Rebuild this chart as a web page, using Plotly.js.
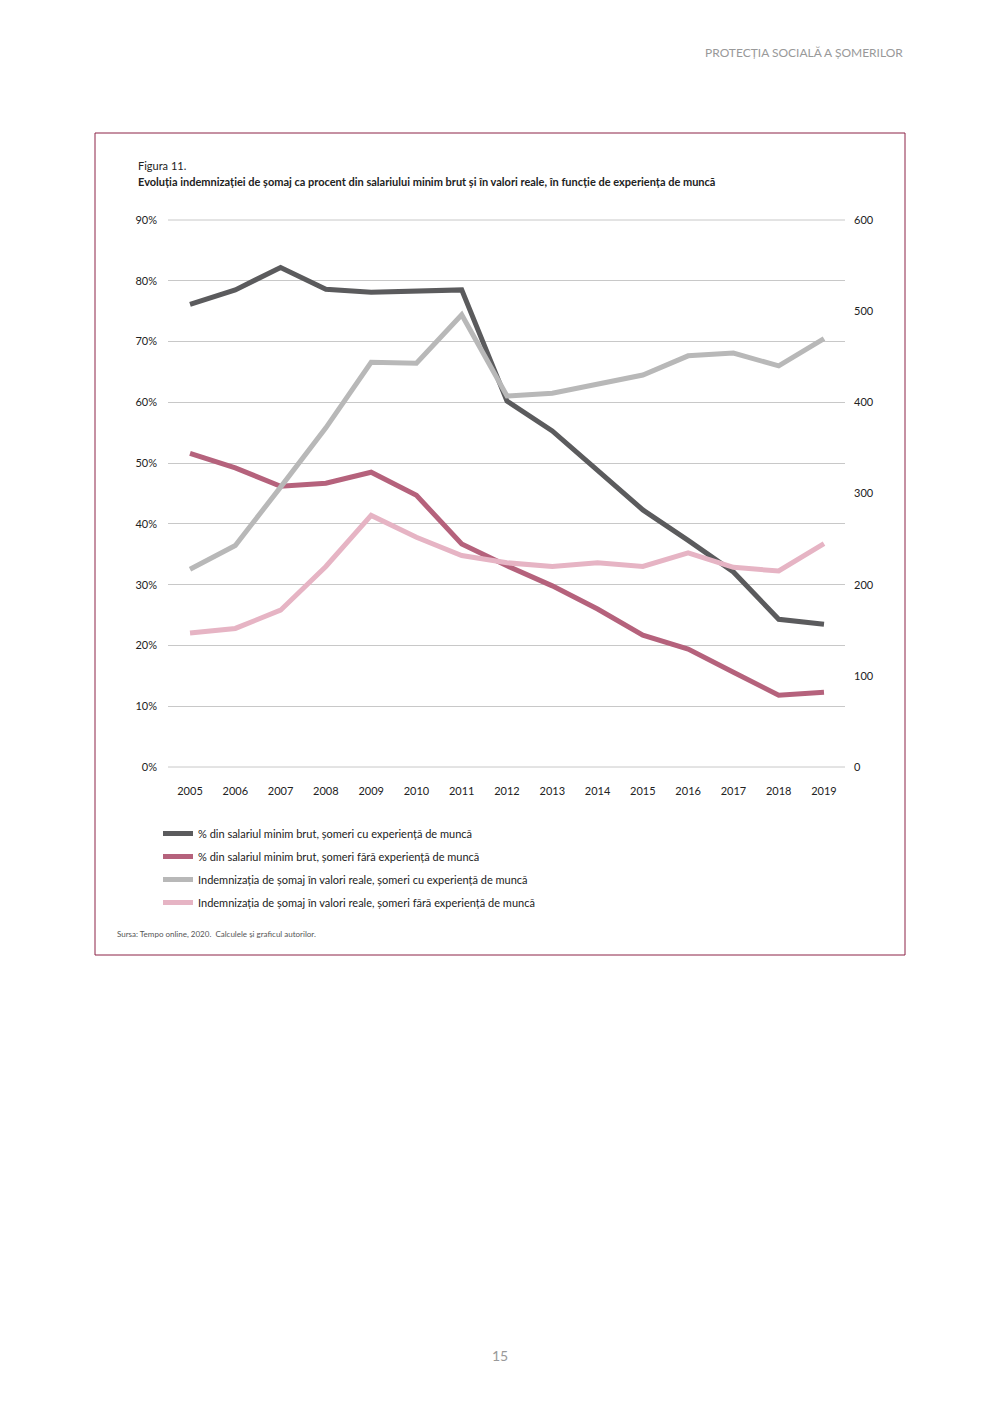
<!DOCTYPE html>
<html><head><meta charset="utf-8">
<script src="https://cdn.plot.ly/plotly-3.0.1.min.js"></script>
<style>body{margin:0;background:#fff}#c{width:1000px;height:1414px}</style>
</head><body><div id="c"></div>
<script>
const years=[2005,2006,2007,2008,2009,2010,2011,2012,2013,2014,2015,2016,2017,2018,2019];
const pctCuExp=[76.1,78.5,82.2,78.6,78.1,78.3,78.5,60.2,55.3,48.8,42.3,37.3,32.1,24.3,23.5];
const pctFaraExp=[51.6,49.2,46.2,46.7,48.5,44.7,36.7,33.1,29.8,26.0,21.7,19.4,15.6,11.8,12.3];
const realCuExp=[217,243,307,372,444,443,496,407,410,420,430,451,454,440,470];
const realFaraExp=[147,152,172,220,276,252,232,224,220,224,220,235,219,215,245];
const names=["% din salariul minim brut, șomeri cu experiență de muncă","% din salariul minim brut, șomeri fără experiență de muncă","Indemnizația de șomaj în valori reale, șomeri cu experiență de muncă","Indemnizația de șomaj în valori reale, șomeri fără experiență de muncă"];
const cols=["#5b5b5d","#b5627c","#b8b8b8","#e6b4c4"];
const L=168,R=845,T=220,B=767;
const px=x=>(x-L)/(R-L), py=y=>(B-y)/(B-T);
const traces=[
 {x:years,y:realCuExp,yaxis:'y2',name:names[2],line:{color:cols[2],width:5},legendrank:3,legendgroup:'c'},
 {x:years,y:realFaraExp,yaxis:'y2',name:names[3],line:{color:cols[3],width:5},legendrank:4,legendgroup:'d'},
 {x:years,y:pctFaraExp,name:names[1],line:{color:cols[1],width:5},legendrank:2,legendgroup:'b'},
 {x:years,y:pctCuExp,name:names[0],line:{color:cols[0],width:5},legendrank:1,legendgroup:'a'}
].map(t=>Object.assign({type:'scatter',mode:'lines'},t));
const f={family:'Lato, Open Sans, sans-serif',size:11,color:'#222'};
const layout={width:1000,height:1414,margin:{l:L,r:1000-R,t:T,b:1414-B},
 paper_bgcolor:'#fff',plot_bgcolor:'#fff',font:f,
 xaxis:{range:[2004.514,2019.464],tickvals:years,showgrid:false,zeroline:false,showline:false,ticks:'',tickfont:{size:11},ticklabelstandoff:16},
 yaxis:{range:[0,90],dtick:10,ticksuffix:'%',gridcolor:'#c8c8c8',zeroline:false,showline:false,ticks:'',tickfont:{size:11},ticklabelstandoff:10},
 yaxis2:{range:[0,600],dtick:100,overlaying:'y',side:'right',showgrid:false,zeroline:false,ticks:'',tickfont:{size:11},ticklabelstandoff:8},
 showlegend:true,
 legend:{x:px(158),y:py(819),xanchor:'left',yanchor:'top',font:{size:11},tracegroupgap:4,itemwidth:30,bgcolor:'rgba(0,0,0,0)'},
 shapes:[
  {type:'rect',xref:'paper',yref:'paper',x0:px(95),x1:px(905),y0:py(955),y1:py(133),line:{color:'#8c2247',width:1},layer:'below'},
  {type:'line',xref:'paper',yref:'paper',x0:0,x1:1,y0:0,y1:0,line:{color:'#c8c8c8',width:1},layer:'below'},
  {type:'line',xref:'paper',yref:'paper',x0:0,x1:1,y0:1,y1:1,line:{color:'#c8c8c8',width:1},layer:'below'}
 ],
 annotations:[
  {text:'PROTECȚIA SOCIALĂ A ȘOMERILOR',x:px(905),y:py(53),xanchor:'right',yanchor:'middle',showarrow:false,xref:'paper',yref:'paper',font:{size:12,color:'#999'}},
  {text:'Figura 11.',x:px(136),y:py(166),xanchor:'left',yanchor:'middle',showarrow:false,xref:'paper',yref:'paper',font:{size:11}},
  {text:'<b>Evoluția indemnizației de șomaj ca procent din salariului minim brut și în valori reale, în funcție de experiența de muncă</b>',x:px(136),y:py(181),xanchor:'left',yanchor:'middle',showarrow:false,xref:'paper',yref:'paper',font:{size:11}},
  {text:'Sursa: Tempo online, 2020.  Calculele și graficul autorilor.',x:px(115),y:py(934),xanchor:'left',yanchor:'middle',showarrow:false,xref:'paper',yref:'paper',font:{size:8,color:'#555'}},
  {text:'15',x:px(500),y:py(1355),xanchor:'center',yanchor:'middle',showarrow:false,xref:'paper',yref:'paper',font:{size:14,color:'#999'}}
 ]};
Plotly.newPlot('c',traces,layout,{displayModeBar:false});
</script></body></html>
